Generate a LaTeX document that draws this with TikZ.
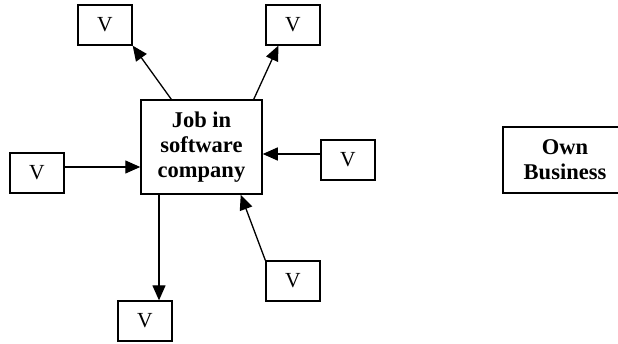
\documentclass[tikz,border=0pt]{standalone}
\usepackage{fontspec}
\setmainfont{Liberation Serif}
\usetikzlibrary{arrows.meta,calc}
\begin{document}
\begin{tikzpicture}[x=1pt,y=-1pt,
  vbox/.style={draw,line width=1.3pt,minimum width=54pt,minimum height=40pt,inner sep=0pt,
    font=\fontsize{21.5}{25}\selectfont},
  bigbox/.style={draw,line width=1.5pt,inner sep=0pt,align=center,
    font=\fontsize{22.5}{25}\selectfont\bfseries},
  link/.style={line width=1.3pt,-{Triangle[length=15pt,width=13pt]}}]
\useasboundingbox (0,0) rectangle (618,344);
% central box and the second option
\node[bigbox,minimum width=121pt,minimum height=94pt] (job) at (201.5,147) {Job in\\software\\company};
\node[bigbox,minimum width=124pt,minimum height=66pt] (own) at (565,160) {Own\\Business};
% surrounding V boxes
\node[vbox] (tl) at (105,25) {V};
\node[vbox] (tr) at (293,25) {V};
\node[vbox] (lv) at (37,173) {V};
\node[vbox] (rv) at (348,160) {V};
\node[vbox] (br) at (293,281) {V};
\node[vbox] (bv) at (145,321) {V};
% entry point on top of the lower V box
\coordinate (bvin) at ($(bv.north)+(14,0)$);
% connectors
\draw[link] ($(job.north west)+(31,0)$) -- (tl.south east);
\draw[link] ($(job.north east)+(-9,0)$) -- ($(tr.south west)+(13,0)$);
\draw[link] ($(lv.east)+(0,-6)$) -- ($(job.west)+(0,20)$);
\draw[link] ($(rv.west)+(0,-6)$) -- ($(job.east)+(0,7)$);
\draw[link] (bvin |- job.south) -- (bvin);
\draw[link] (br.north west) -- ($(job.south east)+(-22,0)$);
\end{tikzpicture}
\end{document}
